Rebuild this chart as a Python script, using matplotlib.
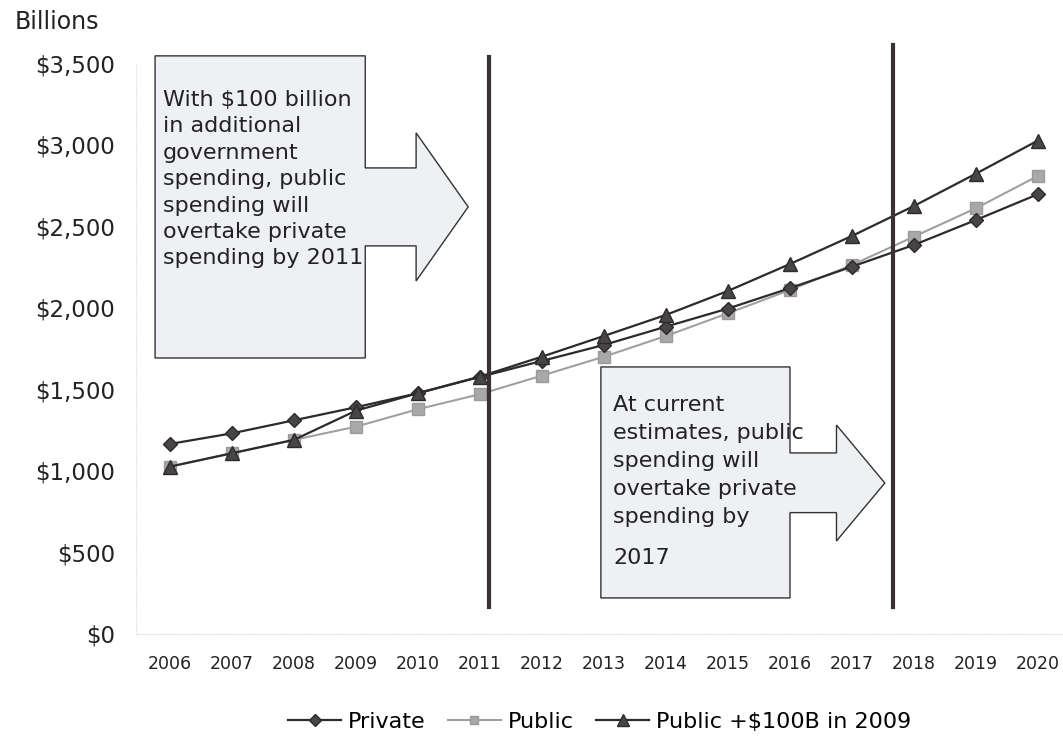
import matplotlib
matplotlib.use('Agg')
import matplotlib.pyplot as plt
from matplotlib.patches import Polygon

years = list(range(2006, 2021))
private = [1165, 1230, 1310, 1390, 1476, 1576, 1674, 1772, 1884, 1995, 2120, 2252, 2385, 2538, 2696]
public = [1026, 1108, 1190, 1271, 1378, 1470, 1584, 1700, 1827, 1966, 2109, 2262, 2436, 2610, 2808]
public_plus = [1026, 1108, 1190, 1369, 1476, 1578, 1700, 1827, 1956, 2103, 2268, 2440, 2624, 2822, 3025]

y_ticks = [0, 500, 1000, 1500, 2000, 2500, 3000, 3500]
y_labels = ["$0", "$500", "$1,000", "$1,500", "$2,000", "$2,500", "$3,000", "$3,500"]

# crossover markers (year, bottom, top)
crossovers = [(2011.15, 165, 3540), (2017.66, 165, 3610)]

note1 = "With $100 billion\nin additional\ngovernment\nspending, public\nspending will\novertake private\nspending by 2011"
note2 = "At current\nestimates, public\nspending will\novertake private\nspending by"
note2_tail = "2017"

plt.rcParams['font.family'] = ['DejaVu Sans']
fig = plt.figure(figsize=(10.63, 7.39), dpi=100)
ax = fig.add_axes([0.1278, 0.1421, 0.872, 0.7726])

dark = '#2b2b2b'
ax.plot(years, private, color=dark, lw=1.6, marker='D', ms=7.5, mfc='#4a4545', mec='#2b2b2b',
        label='Private', zorder=4)
ax.plot(years, public, color='#a0a0a0', lw=1.5, marker='s', ms=8, mfc='#a8a8a8', mec='#9a9a9a',
        label='Public', zorder=3)
ax.plot(years, public_plus, color=dark, lw=1.6, marker='^', ms=10, mfc='#4a4545', mec='#2b2b2b',
        label='Public +$100B in 2009', zorder=5)

for x, y0, y1 in crossovers:
    ax.plot([x, x], [y0, y1], color='#3a3232', lw=3, clip_on=False, zorder=6)


def arrow_box(x0, x1, shaft_x, tip_x, y0, y1, shaft_lo, shaft_hi, head_lo, head_hi):
    tip_y = (head_lo + head_hi) / 2
    pts = [(x0, y1), (x1, y1), (x1, shaft_hi), (shaft_x, shaft_hi), (shaft_x, head_hi),
           (tip_x, tip_y), (shaft_x, head_lo), (shaft_x, shaft_lo), (x1, shaft_lo),
           (x1, y0), (x0, y0)]
    poly = Polygon(pts, closed=True, facecolor='#eef0f4', edgecolor='#333333', lw=1.0,
                   clip_on=False, zorder=2)
    ax.add_patch(poly)


arrow_box(2005.76, 2009.15, 2009.97, 2010.81, 1692, 3544, 2379, 2857, 2164, 3072)
arrow_box(2012.95, 2016.0, 2016.75, 2017.53, 221, 1637, 744, 1110, 570, 1281)

ax.text(2005.88, 3335, note1, fontsize=16, color='#222222', va='top', ha='left',
        linespacing=1.4, zorder=7, clip_on=False)
ax.text(2013.15, 1468, note2, fontsize=16, color='#222222', va='top', ha='left',
        linespacing=1.5, zorder=7)
ax.text(2013.15, 530, note2_tail, fontsize=16, color='#222222', va='top', ha='left', zorder=7)

ax.set_xlim(2005.45, 2020.4)
ax.set_ylim(0, 3500)
ax.set_xticks(years)
ax.set_xticklabels([str(y) for y in years], fontsize=12.5, color='#222222')
ax.set_yticks(y_ticks)
ax.set_yticklabels(y_labels, fontsize=16.5, color='#222222')
ax.tick_params(axis='both', length=0)
ax.tick_params(axis='y', pad=15)
ax.tick_params(axis='x', pad=15)

for side in ['top', 'right']:
    ax.spines[side].set_visible(False)
for side in ['left', 'bottom']:
    ax.spines[side].set_color('#e4e4e4')
    ax.spines[side].set_linestyle(':')

fig.text(15 / 1063, 1 - 22 / 739, "Billions", fontsize=17, color='#222222', va='center', ha='left')

fig.legend(loc='center', bbox_to_anchor=(599.5 / 1063, 17 / 739), ncol=3, frameon=False,
           fontsize=16, handlelength=2.4, handletextpad=0.3, columnspacing=1.0, markerscale=0.8)

fig.savefig('out.png', dpi=100)
plt.close(fig)
